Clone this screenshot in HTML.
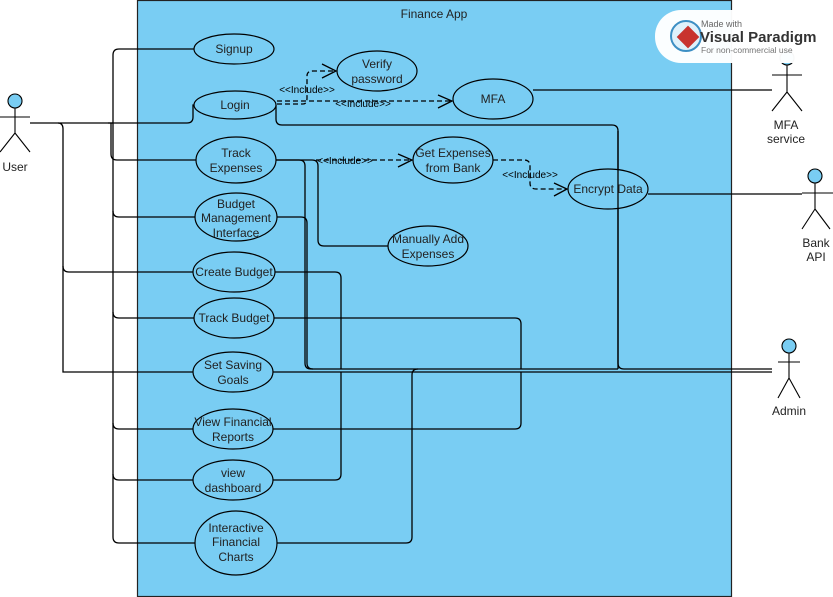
<!DOCTYPE html>
<html><head><meta charset="utf-8"><style>
body{margin:0;background:#fff;}
svg{display:block;font-family:"Liberation Sans",sans-serif;}
</style></head><body>
<svg width="833" height="597" viewBox="0 0 833 597" xmlns="http://www.w3.org/2000/svg">
<rect x="137.5" y="0.5" width="594" height="596" fill="#79CDF3" stroke="#222" stroke-width="1.2"/>
<text x="434" y="18" font-size="12" text-anchor="middle" fill="#222">Finance App</text>

<g fill="none" stroke="#000" stroke-width="1.3">
<!-- user connectors -->
<path d="M30 123 H113"/>
<path d="M113 123 V55 Q113 49 119 49 H194"/>
<path d="M108 123 H187 Q193 123 193 117 V105 H194"/>
<path d="M113 123 V537 Q113 543 119 543 H195"/>
<path d="M111 123 V154 Q111 160 117 160 H196"/>
<path d="M113 211 Q113 217 119 217 H195"/>
<path d="M113 312 Q113 318 119 318 H194"/>
<path d="M113 423 Q113 429 119 429 H193"/>
<path d="M113 474 Q113 480 119 480 H193"/>
<path d="M58 123 Q63 123 63 129 V266 Q63 272 69 272 H193"/>
<path d="M63 266 V372 H193"/>
<!-- admin connectors -->
<path d="M276 105 V119 Q276 125 282 125 H612 Q618 125 618 131 V363 Q618 369 624 369 H772"/>
<path d="M276 160 H299 Q305 160 305 166 V363 Q305 369 311 369 H618"/>
<path d="M276 160 H312 Q318 160 318 166 V240 Q318 246 324 246 H388"/>
<path d="M277 217 H301 Q307 217 307 223 V363 Q307 369 313 369"/>
<path d="M275 272 H335 Q341 272 341 278 V369"/>
<path d="M274 318 H515 Q521 318 521 324 V369"/>
<path d="M273 372 H772"/>
<path d="M273 429 H515 Q521 429 521 423 V372"/>
<path d="M273 480 H335 Q341 480 341 474 V372"/>
<path d="M277 543 H406 Q412 543 412 537 V375 Q412 369 418 369"/>
<path d="M533 90 H772"/>
<path d="M648 194 H802"/>
</g>
<!-- includes -->
<g fill="none" stroke="#000" stroke-width="1.3" stroke-dasharray="5,3">
<path d="M277 104 H303 Q307 104 307 98 V76 Q307 71 313 71 H335"/>
<path d="M277 101 H451"/>
<path d="M316 160 H411"/>
<path d="M493 160 H524 Q530 160 530 166 V183 Q530 189 536 189 H566"/>
</g>
<g fill="none" stroke="#000" stroke-width="1.3">
<path d="M322 64 L336 71 L322 78"/><path d="M438 95 L452 101 L438 108"/>
<path d="M398 154 L412 160 L398 167"/><path d="M554 183 L567 189 L554 196"/>
</g>
<g font-size="10" fill="#000" text-anchor="middle">
<text x="307" y="93">&lt;&lt;Include&gt;&gt;</text>
<text x="363" y="107">&lt;&lt;Include&gt;&gt;</text>
<text x="345" y="164">&lt;&lt;Include&gt;&gt;</text>
<text x="530" y="178">&lt;&lt;Include&gt;&gt;</text>
</g>

<!-- use cases -->
<g fill="#79CDF3" stroke="#000" stroke-width="1.2">
<ellipse cx="234" cy="49" rx="40" ry="15"/>
<ellipse cx="377" cy="71" rx="40" ry="20"/>
<ellipse cx="235" cy="105" rx="41" ry="14"/>
<ellipse cx="493" cy="99" rx="40" ry="20"/>
<ellipse cx="236" cy="160" rx="40" ry="23"/>
<ellipse cx="453" cy="160" rx="40" ry="23"/>
<ellipse cx="608" cy="189" rx="40" ry="20"/>
<ellipse cx="236" cy="217" rx="41" ry="24"/>
<ellipse cx="428" cy="246" rx="40" ry="20"/>
<ellipse cx="234" cy="272" rx="41" ry="20"/>
<ellipse cx="234" cy="318" rx="40" ry="20"/>
<ellipse cx="233" cy="372" rx="40" ry="20"/>
<ellipse cx="233" cy="429" rx="40" ry="20"/>
<ellipse cx="233" cy="480" rx="40" ry="20"/>
<ellipse cx="236" cy="543" rx="41" ry="32"/>
</g>
<path d="M618 131 V369" stroke="#000" stroke-width="1.3" fill="none"/>
<g font-size="12" fill="#222" text-anchor="middle">
<text x="234" y="53">Signup</text>
<text x="377" y="68">Verify</text><text x="377" y="83">password</text>
<text x="235" y="109">Login</text>
<text x="493" y="103">MFA</text>
<text x="236" y="157">Track</text><text x="236" y="172">Expenses</text>
<text x="453" y="157">Get Expenses</text><text x="453" y="172">from Bank</text>
<text x="608" y="193">Encrypt Data</text>
<text x="236" y="208">Budget</text><text x="236" y="222">Management</text><text x="236" y="237">Interface</text>
<text x="428" y="243">Manually Add</text><text x="428" y="258">Expenses</text>
<text x="234" y="276">Create Budget</text>
<text x="234" y="322">Track Budget</text>
<text x="233" y="369">Set Saving</text><text x="233" y="384">Goals</text>
<text x="233" y="426">View Financial</text><text x="233" y="441">Reports</text>
<text x="233" y="477">view</text><text x="233" y="492">dashboard</text>
<text x="236" y="532">Interactive</text><text x="236" y="546">Financial</text><text x="236" y="561">Charts</text>
</g>

<!-- actors -->
<g fill="none" stroke="#000" stroke-width="1.1">
<circle cx="15" cy="101" r="7" fill="#79CDF3"/><path d="M15 108 V133 M0 117 H30 M15 133 L0 152 M15 133 L30 152"/>
<circle cx="787" cy="58" r="7" fill="#79CDF3"/><path d="M787 65 V92 M772 75 H802 M787 92 L772 111 M787 92 L802 111"/>
<circle cx="815" cy="176" r="7" fill="#79CDF3"/><path d="M815 183 V209 M802 193 H833 M815 209 L802 229 M815 209 L830 229"/>
<circle cx="789" cy="346" r="7" fill="#79CDF3"/><path d="M789 353 V378 M778 362 H800 M789 378 L778 398 M789 378 L800 398"/>
</g>
<g font-size="12" fill="#222" text-anchor="middle">
<text x="15" y="171">User</text>
<text x="786" y="129">MFA</text><text x="786" y="143">service</text>
<text x="816" y="247">Bank</text><text x="816" y="261">API</text>
<text x="789" y="415">Admin</text>
</g>

<!-- logo -->
<rect x="655" y="10" width="170" height="53" rx="26" fill="#fff" opacity="0.97"/>
<circle cx="686" cy="36" r="15" fill="#dff1fb" stroke="#3d8fc4" stroke-width="2"/>
<rect x="680" y="29" width="16" height="16" fill="#c8332f" transform="rotate(45 688 37)"/>
<text x="701" y="27" font-size="9" fill="#666">Made with</text>
<text x="700" y="42" font-size="15" font-weight="bold" fill="#333">Visual Paradigm</text>
<text x="701" y="53" font-size="8.5" fill="#777">For non-commercial use</text>
</svg>
</body></html>
